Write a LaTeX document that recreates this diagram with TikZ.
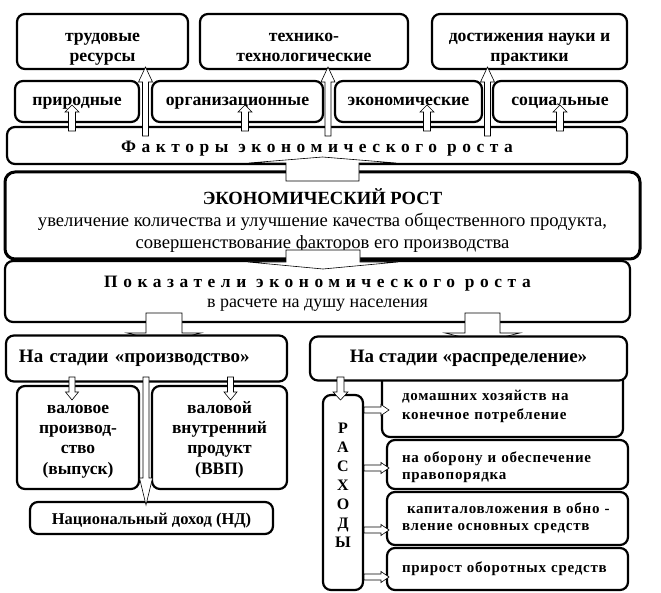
\documentclass[tikz,border=0pt]{standalone}
\usepackage{fontspec}
\setmainfont{Liberation Serif}
\newfontfamily\spacedfont[LetterSpace=32]{Liberation Serif}
\newfontfamily\lspaced[LetterSpace=5]{Liberation Serif}
\newcommand{\myfs}[2]{\fontsize{#1}{#2}\selectfont}
\newcommand{\tp}[1]{\rule{0pt}{#1pt}}
\newcommand{\uarrow}[6]{% x, ybottom, ytip, shaft, head, headlen
 \draw[barrow] ({#1-#4/2},#2) -- ({#1-#4/2},{#3+#6}) -- ({#1-#5/2},{#3+#6}) -- (#1,#3) -- ({#1+#5/2},{#3+#6}) -- ({#1+#4/2},{#3+#6}) -- ({#1+#4/2},#2) -- cycle;}
\newcommand{\darrow}[6]{% x, ytop, ytip, shaft, head, headlen
 \draw[barrow] ({#1-#4/2},#2) -- ({#1-#4/2},{#3-#6}) -- ({#1-#5/2},{#3-#6}) -- (#1,#3) -- ({#1+#5/2},{#3-#6}) -- ({#1+#4/2},{#3-#6}) -- ({#1+#4/2},#2) -- cycle;}
\newcommand{\rarrow}[6]{% y, xstart, xtip, shaft, head, headlen
 \draw[barrow] (#2,{#1-#4/2}) -- ({#3-#6},{#1-#4/2}) -- ({#3-#6},{#1-#5/2}) -- (#3,#1) -- ({#3-#6},{#1+#5/2}) -- ({#3-#6},{#1+#4/2}) -- (#2,{#1+#4/2}) -- cycle;}
\begin{document}
\begin{tikzpicture}[x=1pt,y=-1pt,
  box/.style={draw, line width=2.2pt, rounded corners=8pt, fill=white, inner sep=0pt, align=center},
  toptext/.style={font=\bfseries\myfs{17.7}{20}},
  barrow/.style={draw, line width=0.6pt, fill=white, line join=miter}]
\useasboundingbox (0,0) rectangle (661,593);
\fill[white] (0,0) rectangle (661,593);
% top row
\node[box, toptext, minimum width=171pt, minimum height=55pt] (trud) at (102.5,41.5) {\tp{26}трудовые\\ресурсы\strut};
\node[box, toptext, minimum width=208pt, minimum height=55pt] (tech) at (304,41.5) {\tp{26}технико-\\технологические\strut};
\node[box, toptext, minimum width=195pt, minimum height=55pt] (dost) at (529.5,41.5) {\tp{26}достижения науки и\\практики\strut};
% second row
\node[box, toptext, minimum width=124pt, minimum height=41pt] (prir) at (77,101.5) {\strut природные};
\node[box, toptext, minimum width=171pt, minimum height=41pt] (org) at (237.5,101.5) {\strut организационные};
\node[box, toptext, minimum width=147pt, minimum height=41pt] (econ) at (408.5,101.5) {\strut экономические};
\node[box, toptext, minimum width=134pt, minimum height=41pt] (soc) at (560,101.5) {\strut социальные};
% factors
\node[box, minimum width=620pt, minimum height=37pt, font=\spacedfont\bfseries\myfs{17.4}{20}] (fact) at (317,145.5) {\tp{20}\strut Факторы экономического роста};
% economic growth
\node[box, line width=3pt, rounded corners=10pt, minimum width=635pt, minimum height=87pt] (er) at (322.5,215.5) {};
\node[align=center, inner sep=0pt, font=\myfs{18.6}{22}] (erT) at (322.5,222) {\strut{\bfseries ЭКОНОМИЧЕСКИЙ РОСТ}\\увеличение количества и улучшение качества общественного продукта,\\совершенствование факторов его производства\strut};
% indicators
\node[box, minimum width=625pt, minimum height=61pt, font=\myfs{18}{20}] (pok) at (317.5,291.5) {\tp{18}\strut{\spacedfont\bfseries\myfs{17.4}{20}Показатели экономического роста}\\в расчете на душу населения\strut};
% arrows under stage boxes
\darrow{164}{313}{342}{36}{74}{9}
\darrow{482.5}{313}{342}{35}{75}{9}
% distribution: first right box (top hidden)
\node[box, minimum width=241pt, minimum height=67pt, text width=201pt, inner xsep=20pt, align=left, font=\lspaced\bfseries\myfs{15}{19}] (r1) at (502.5,403.5) {\tp{19.3}домашних хозяйств на\\конечное потребление\strut};
% stage boxes
\node[box, minimum height=46pt, text width=255pt, inner xsep=13pt, align=left, font=\bfseries\myfs{19}{22}] (prod) at (146.5,358.5) {\strut На стадии «производство»};
\node[box, minimum width=317pt, minimum height=44pt, font=\bfseries\myfs{19}{22}] (rasp) at (468.5,358.5) {\strut На стадии «распределение»};
% production sub boxes
\node[box, minimum width=122pt, minimum height=103pt, font=\bfseries\myfs{17.5}{20.3}] (vp) at (78,437.5) {\tp{18.2}валовое\\производ-\\ство\\(выпуск)\strut};
\node[box, minimum width=135pt, minimum height=103pt, font=\bfseries\myfs{17.5}{20.3}] (vvp) at (219.5,437.5) {\tp{18.2}валовой\\внутренний\\продукт\\(ВВП)\strut};
\node[box, minimum width=243pt, minimum height=32pt, font=\bfseries\myfs{16.5}{19}] (nd) at (151.5,518) {\tp{19.3}\strut Национальный доход (НД)};
% expenses
\node[box, minimum width=40pt, minimum height=195pt] (rash) at (343,492.5) {};
\node[font=\bfseries\myfs{16}{19}, align=center, inner sep=0pt] (rashT) at (343,487) {\strut Р\\А\\С\\Х\\О\\Д\\Ы\strut};
\node[box, minimum width=241pt, minimum height=49pt, text width=211pt, inner xsep=15pt, align=left, font=\lspaced\bfseries\myfs{15}{17.5}] (r2) at (507.5,464.5) {\tp{18.25}на оборону и обеспечение\\правопорядка\strut};
\node[box, minimum width=241pt, minimum height=53pt, text width=211pt, inner xsep=15pt, align=left, font=\lspaced\bfseries\myfs{15}{16.5}] (r3) at (507.5,518.5) {\strut\ капиталовложения в обно -\\вление основных средств\strut};
\node[box, minimum width=241pt, minimum height=42pt, text width=211pt, inner xsep=15pt, align=left, font=\lspaced\bfseries\myfs{15}{18}] (r4) at (507.5,569) {\strut прирост оборотных средств};
% arrows from factors up
\uarrow{72}{131}{105}{7}{14}{7}
\uarrow{245}{131}{105}{7}{14}{7}
\uarrow{427}{131}{105}{7}{14}{7}
\uarrow{560}{131}{105}{7}{14}{7}
\uarrow{145.5}{136}{67}{6}{14}{15}
\uarrow{328}{136}{67}{6}{14}{15}
\uarrow{487.5}{136}{67}{6}{14}{15}
% middle wide arrows
\uarrow{322.5}{181}{157}{73}{147}{6}
\darrow{323}{250}{269}{74}{150}{7}
% production arrows
\darrow{72}{377}{400}{6}{13}{8}
\darrow{230.5}{377}{400}{6}{13}{8}
\darrow{146}{377}{505}{6}{13}{27}
% distribution arrows
\darrow{340.5}{377}{400}{7}{15}{8}
\rarrow{410}{364}{389}{6}{11}{8}
\rarrow{468}{364}{389}{6}{11}{8}
\rarrow{530}{364}{389}{6}{11}{8}
\rarrow{577}{364}{389}{6}{11}{8}
\end{tikzpicture}
\end{document}
